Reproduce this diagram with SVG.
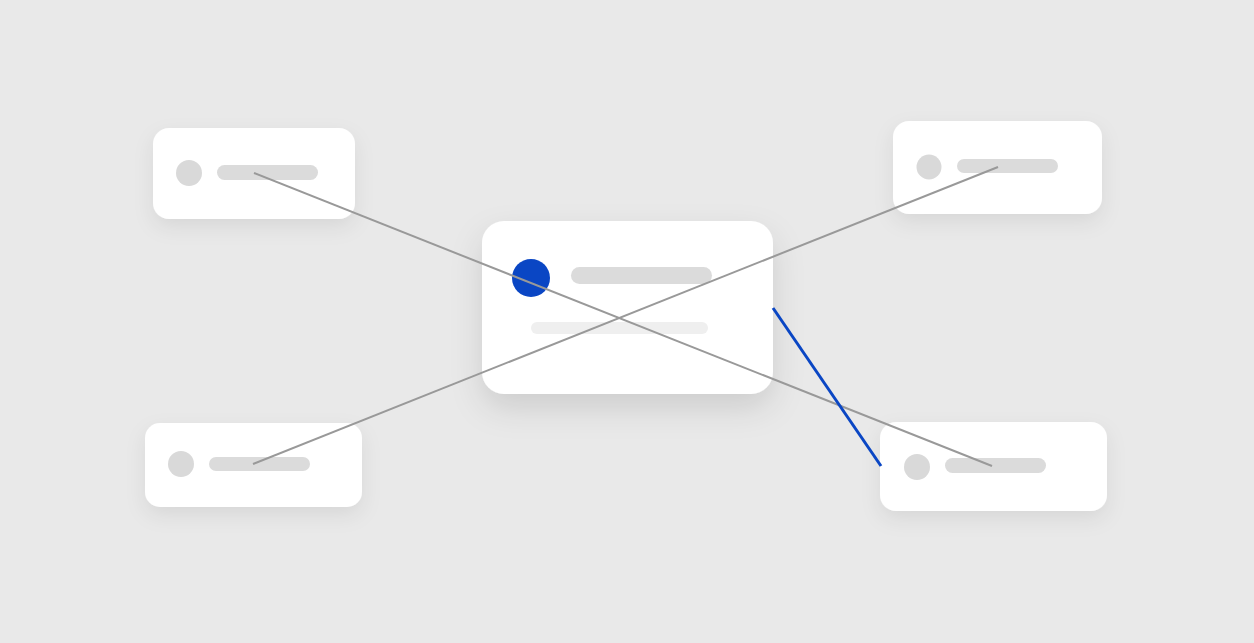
<svg xmlns="http://www.w3.org/2000/svg" width="1254" height="643" viewBox="0 0 1254 643">
<style>
.card{fill:#ffffff}
.dot{fill:#d9d9d9}
.bar{fill:#dbdbdb}
.bar2{fill:#efefef}
.link{stroke:#999999;stroke-width:2;fill:none}
.active{stroke:#0a46c4;stroke-width:3;fill:none}
</style>
<defs>
<filter id="sh" x="-30%" y="-40%" width="160%" height="200%">
<feDropShadow dx="0" dy="8" stdDeviation="10" flood-color="#000" flood-opacity="0.08"/>
</filter>
<filter id="shb" x="-30%" y="-40%" width="160%" height="200%">
<feDropShadow dx="0" dy="14" stdDeviation="16" flood-color="#000" flood-opacity="0.12"/>
</filter>
</defs>
<rect width="1254" height="643" fill="#e9e9e9"/>
<g id="node-top-left">
<rect class="card" x="153" y="128" width="202" height="91" rx="16" filter="url(#sh)"/>
<circle class="dot" cx="189" cy="173" r="13"/>
<rect class="bar" x="217" y="165" width="101" height="15" rx="7.5"/>
</g>
<g id="node-top-right">
<rect class="card" x="893" y="121" width="209" height="93" rx="16" filter="url(#sh)"/>
<circle class="dot" cx="929" cy="167" r="12.5"/>
<rect class="bar" x="957" y="159" width="101" height="14" rx="7"/>
</g>
<g id="node-bottom-left">
<rect class="card" x="145" y="423" width="217" height="84" rx="15" filter="url(#sh)"/>
<circle class="dot" cx="181" cy="464" r="13"/>
<rect class="bar" x="209" y="457" width="101" height="14" rx="7"/>
</g>
<g id="node-bottom-right">
<rect class="card" x="880" y="422" width="227" height="89" rx="16" filter="url(#sh)"/>
<circle class="dot" cx="917" cy="467" r="13"/>
<rect class="bar" x="945" y="458" width="101" height="15" rx="7.5"/>
</g>
<g id="node-center">
<rect class="card" x="482" y="221" width="291" height="173" rx="22" filter="url(#shb)"/>
<circle cx="531" cy="278" r="19" fill="#0a46c4"/>
<rect class="bar" x="571" y="267" width="141" height="17" rx="8.5"/>
<rect class="bar2" x="531" y="322" width="177" height="12" rx="6"/>
</g>
<g id="connectors">
<line class="link" x1="254" y1="173" x2="992" y2="466"/>
<line class="link" x1="253" y1="464" x2="998" y2="167"/>
<line class="active" x1="773" y1="308" x2="881" y2="466"/>
</g>
</svg>
